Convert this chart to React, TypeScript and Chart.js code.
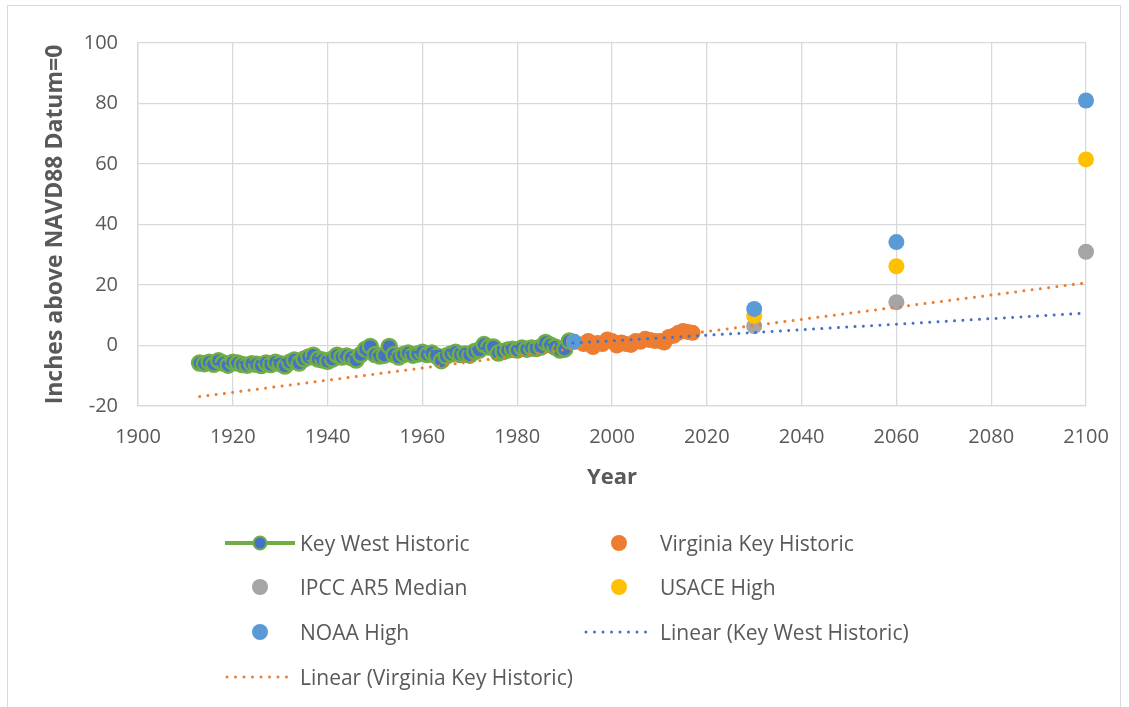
import React, { useEffect, useRef } from "react";
import { Chart, registerables } from "chart.js";

Chart.register(...registerables);

// ---------- data ----------
const keyWestYears = [
  1913, 1914, 1915, 1916, 1917, 1918, 1919, 1920, 1921, 1922, 1923, 1924, 1925, 1926, 1927, 1928, 1929, 1930,
  1931, 1932, 1933, 1934, 1935, 1936, 1937, 1938, 1939, 1940, 1941, 1942, 1943, 1944, 1945, 1946, 1947, 1948,
  1949, 1950, 1951, 1952, 1953, 1954, 1955, 1956, 1957, 1958, 1959, 1960, 1961, 1962, 1963, 1964, 1965, 1966,
  1967, 1968, 1969, 1970, 1971, 1972, 1973, 1974, 1975, 1976, 1977, 1978, 1979, 1980, 1981, 1982, 1983, 1984,
  1985, 1986, 1987, 1988, 1989, 1990, 1991,
];
const keyWestValues = [
  -5.8, -6.0, -5.5, -6.2, -5.0, -5.8, -6.5, -5.5, -5.8, -6.3, -6.5, -6.0, -6.2, -6.6, -5.8, -6.3, -5.5, -6.0,
  -6.8, -5.5, -4.8, -5.8, -4.5, -3.8, -3.2, -4.5, -4.8, -5.2, -4.5, -3.2, -3.8, -3.5, -4.0, -4.8, -3.0, -1.2,
  -0.3, -3.0, -3.5, -3.2, -0.3, -3.0, -3.8, -3.0, -2.5, -3.2, -2.8, -2.2, -3.0, -2.5, -3.5, -5.0, -3.5, -2.8,
  -2.2, -3.0, -2.8, -3.2, -2.0, -1.5, 0.3, -0.5, -0.5, -2.5, -2.0, -1.5, -1.2, -1.5, -0.8, -1.2, -0.8, -1.0,
  -0.5, 1.0, 0.2, -0.5, -1.5, -1.2, 1.5,
];

const virginiaYears = [
  1994, 1995, 1996, 1997, 1998, 1999, 2000, 2001, 2002, 2003, 2004, 2005, 2006, 2007, 2008, 2009, 2010, 2011,
  2012, 2013, 2014, 2015, 2016, 2017,
];
const virginiaValues = [
  0.5, 1.5, -0.5, 0.8, 0.5, 2.0, 1.5, 0.0, 1.0, 0.5, 0.2, 1.5, 1.2, 2.2, 1.8, 1.5, 1.5, 1.0, 2.8, 3.2, 4.2,
  4.8, 4.5, 4.2,
];

const projectionYears = [1992, 2030, 2060, 2100];
const ipccValues = [1.2, 6.4, 14.3, 31.0];
const usaceValues = [1.2, 9.8, 26.2, 61.5];
const noaaValues = [1.2, 12.1, 34.2, 81.0];

const keyWestTrendYears = [1913, 2100];
const keyWestTrendValues = [-6.4, 10.7];
const virginiaTrendYears = [1913, 2100];
const virginiaTrendValues = [-16.9, 20.7];

const xTicks = [1900, 1920, 1940, 1960, 1980, 2000, 2020, 2040, 2060, 2080, 2100];
const yTicks = [-20, 0, 20, 40, 60, 80, 100];

const xTitle = "Year";
const yTitle = "Inches above NAVD88 Datum=0";

const toPts = (xs: number[], ys: number[]) => xs.map((x, i) => ({ x, y: ys[i] }));

const C_BLUE = "#4472C4";
const C_GREEN = "#70AD47";
const C_ORANGE = "#ED7D31";
const C_GRAY = "#A5A5A5";
const C_YELLOW = "#FFC000";
const C_LBLUE = "#5B9BD5";
const TEXT = "#595959";
const FONT = "'Open Sans', 'Liberation Sans', sans-serif";

type LegendItem = { label: string; kind: "lineMarker" | "marker" | "dotted"; color: string; border?: string; col: number; row: number };
const legendItems: LegendItem[] = [
  { label: "Key West Historic", kind: "lineMarker", color: C_BLUE, border: C_GREEN, col: 0, row: 0 },
  { label: "Virginia Key Historic", kind: "marker", color: C_ORANGE, col: 1, row: 0 },
  { label: "IPCC AR5 Median", kind: "marker", color: C_GRAY, col: 0, row: 1 },
  { label: "USACE High", kind: "marker", color: C_YELLOW, col: 1, row: 1 },
  { label: "NOAA High", kind: "marker", color: C_LBLUE, col: 0, row: 2 },
  { label: "Linear (Key West Historic)", kind: "dotted", color: C_BLUE, col: 1, row: 2 },
  { label: "Linear (Virginia Key Historic)", kind: "dotted", color: C_ORANGE, col: 0, row: 3 },
];

function LegendSymbol({ item }: { item: LegendItem }) {
  const w = 70;
  const h = 20;
  if (item.kind === "lineMarker") {
    return (
      <svg width={w} height={h} style={{ display: "block" }}>
        <line x1={0} y1={10} x2={w} y2={10} stroke={C_GREEN} strokeWidth={4} />
        <circle cx={35} cy={10} r={6.5} fill={item.color} stroke={item.border} strokeWidth={2} />
      </svg>
    );
  }
  if (item.kind === "dotted") {
    return (
      <svg width={w} height={h} style={{ display: "block" }}>
        <line x1={2} y1={10} x2={w} y2={10} stroke={item.color} strokeWidth={3} strokeDasharray="0 8.5" strokeLinecap="round" />
      </svg>
    );
  }
  return (
    <svg width={w} height={h} style={{ display: "block" }}>
      <circle cx={35} cy={10} r={8} fill={item.color} />
    </svg>
  );
}

export default function App() {
  const canvasRef = useRef<HTMLCanvasElement | null>(null);

  useEffect(() => {
    const canvas = canvasRef.current;
    if (!canvas) return;
    const chart = new Chart(canvas, {
      type: "scatter",
      data: {
        datasets: [
          {
            label: "Linear (Key West Historic)",
            data: toPts(keyWestTrendYears, keyWestTrendValues),
            showLine: true,
            borderColor: C_BLUE,
            borderWidth: 3,
            borderDash: [0.01, 8.3],
            borderCapStyle: "round",
            pointRadius: 0,
            clip: false,
            order: 0,
          },
          {
            label: "Linear (Virginia Key Historic)",
            data: toPts(virginiaTrendYears, virginiaTrendValues),
            showLine: true,
            borderColor: C_ORANGE,
            borderWidth: 3,
            borderDash: [0.01, 8.3],
            borderCapStyle: "round",
            pointRadius: 0,
            clip: false,
            order: 1,
          },
          {
            label: "NOAA High",
            data: toPts(projectionYears, noaaValues),
            backgroundColor: C_LBLUE,
            borderColor: C_LBLUE,
            pointRadius: 8,
            borderWidth: 0,
            clip: false,
            order: 2,
          },
          {
            label: "USACE High",
            data: toPts(projectionYears, usaceValues),
            backgroundColor: C_YELLOW,
            borderColor: C_YELLOW,
            pointRadius: 8,
            borderWidth: 0,
            clip: false,
            order: 3,
          },
          {
            label: "IPCC AR5 Median",
            data: toPts(projectionYears, ipccValues),
            backgroundColor: C_GRAY,
            borderColor: C_GRAY,
            pointRadius: 8,
            borderWidth: 0,
            clip: false,
            order: 4,
          },
          {
            label: "Virginia Key Historic",
            data: toPts(virginiaYears, virginiaValues),
            backgroundColor: C_ORANGE,
            borderColor: C_ORANGE,
            pointRadius: 8,
            borderWidth: 0,
            clip: false,
            order: 5,
          },
          {
            label: "Key West Historic",
            data: toPts(keyWestYears, keyWestValues),
            showLine: true,
            backgroundColor: C_BLUE,
            borderColor: C_GREEN,
            borderWidth: 3,
            pointBackgroundColor: C_BLUE,
            pointBorderColor: C_GREEN,
            pointBorderWidth: 2.5,
            pointRadius: 7.5,
            clip: false,
            order: 6,
          },
        ],
      },
      options: {
        animation: false,
        responsive: false,
        maintainAspectRatio: false,
        layout: { padding: { left: 40, right: 43, top: 43, bottom: 216 } },
        plugins: { legend: { display: false }, tooltip: { enabled: false }, title: { display: false } },
        scales: {
          x: {
            type: "linear",
            min: 1900,
            max: 2100,
            afterBuildTicks: (s: any) => {
              s.ticks = xTicks.map((v) => ({ value: v }));
            },
            afterFit: (s: any) => {
              s.height = 85;
            },
            ticks: {
              color: TEXT,
              font: { family: FONT, size: 20 },
              padding: 19,
              callback: (v: any) => String(v),
              maxRotation: 0,
            },
            grid: { color: "#D9D9D9", lineWidth: 1.3, drawTicks: false },
            border: { display: true, color: "#D9D9D9", width: 1.3 },
            title: {
              display: true,
              text: xTitle,
              color: TEXT,
              font: { family: FONT, size: 22, weight: "bold" },
              padding: { top: 0, bottom: 0 },
            },
          },
          y: {
            type: "linear",
            min: -20,
            max: 100,
            afterBuildTicks: (s: any) => {
              s.ticks = yTicks.map((v) => ({ value: v }));
            },
            afterFit: (s: any) => {
              s.width = 98;
            },
            ticks: {
              color: TEXT,
              font: { family: FONT, size: 20 },
              padding: 20,
            },
            grid: { color: "#D9D9D9", lineWidth: 1.3, drawTicks: false },
            border: { display: true, color: "#D9D9D9", width: 1.3 },
            title: {
              display: true,
              text: yTitle,
              color: TEXT,
              font: { family: FONT, size: 23, weight: "bold" },
              padding: { top: 2, bottom: 0 },
            },
          },
        },
      },
    } as any);
    return () => chart.destroy();
  }, []);

  const colX = [225, 584];
  const rowY = [543, 587, 632, 677];
  const textX = [300, 660];

  return (
    <div style={{ position: "absolute", left: 0, top: 0, width: 1129, height: 707, overflow: "hidden", background: "#fff" }}>
      <div
        style={{
          position: "absolute",
          left: 7,
          top: 5,
          width: 1114,
          height: 720,
          border: "1px solid #D9D9D9",
          boxSizing: "border-box",
        }}
      />
      <canvas ref={canvasRef} width={1129} height={707} style={{ position: "absolute", left: 0, top: 0, width: 1129, height: 707 }} />
      {legendItems.map((it) => (
        <React.Fragment key={it.label}>
          <div style={{ position: "absolute", left: colX[it.col], top: rowY[it.row] - 10 }}>
            <LegendSymbol item={it} />
          </div>
          <div
            style={{
              position: "absolute",
              left: textX[it.col],
              top: rowY[it.row] - 15,
              height: 30,
              lineHeight: "30px",
              fontFamily: FONT,
              fontSize: 21,
              color: TEXT,
              whiteSpace: "nowrap",
            }}
          >
            {it.label}
          </div>
        </React.Fragment>
      ))}
    </div>
  );
}
